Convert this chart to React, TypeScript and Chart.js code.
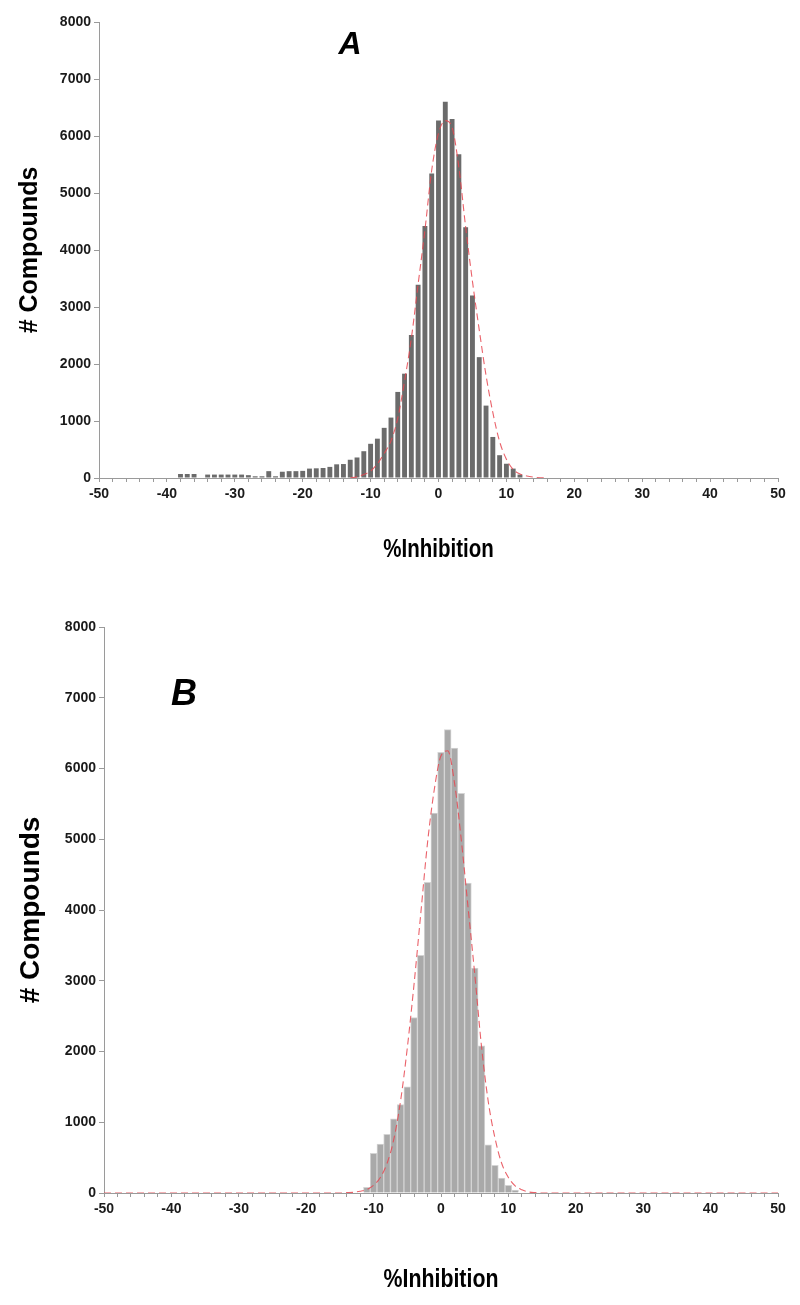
import React, { useEffect, useRef } from "react";
import { Chart, registerables } from "chart.js";

Chart.register(...registerables);

// ---------- Panel A data ----------
const binsA = [
  -38, -37, -36, -35, -34, -33, -32, -31, -30, -29, -28, -27, -26, -25, -24, -23,
  -22, -21, -20, -19, -18, -17, -16, -15, -14, -13, -12, -11, -10, -9, -8, -7, -6,
  -5, -4, -3, -2, -1, 0, 1, 2, 3, 4, 5, 6, 7, 8, 9, 10, 11, 12,
];
const countsA = [
  70, 70, 70, 0, 60, 60, 60, 60, 60, 60, 50, 30, 30, 120, 30, 110,
  120, 120, 125, 165, 170, 175, 195, 240, 245, 320, 360, 470, 600, 690, 880, 1060, 1510,
  1830, 2510, 3390, 4420, 5340, 6270, 6600, 6300, 5680, 4400, 3200, 2120, 1270, 720, 400, 250, 165, 60,
];
const fitXA = [-13, -12, -11, -10, -9, -8, -7, -6, -5, -4, -3, -2, -1, 0, 1, 2, 3, 4, 5, 6, 7, 8, 9, 10, 11, 12, 13, 14, 15, 16];
const fitYA = [0, 20, 60, 120, 250, 430, 650, 1050, 1700, 2450, 3400, 4350, 5400, 6050, 6270, 6150, 5450, 4400, 3450, 2600, 1800, 1150, 640, 330, 150, 70, 35, 15, 5, 0];

// ---------- Panel B data ----------
const binsB = [-11, -10, -9, -8, -7, -6, -5, -4, -3, -2, -1, 0, 1, 2, 3, 4, 5, 6, 7, 8, 9, 10, 11];
const countsB = [80, 560, 690, 830, 1050, 1250, 1500, 2480, 3360, 4390, 5370, 6230, 6550, 6290, 5650, 4380, 3180, 2080, 680, 390, 210, 110, 40];
const fitXB = [-50, -40, -30, -20, -15, -14, -13, -12, -11, -10, -9, -8, -7, -6, -5, -4, -3, -2, -1, 0, 1, 2, 3, 4, 5, 6, 7, 8, 9, 10, 11, 12, 13, 14, 15, 20, 30, 40, 50];
const fitYB = [0, 0, 0, 0, 0, 5, 10, 25, 50, 110, 220, 420, 760, 1300, 2050, 2950, 3950, 4950, 5700, 6180, 6250, 5800, 5000, 4050, 3100, 2080, 1300, 780, 420, 220, 100, 45, 15, 5, 0, 0, 0, 0, 0];

const xRange = [-50, 50];
const yRange = [0, 8000];
const xTitle = "%Inhibition";
const yTitle = "# Compounds";

const FONT = "'Liberation Sans', Arial, sans-serif";

type PanelOpts = {
  bins: number[];
  counts: number[];
  fitX: number[];
  fitY: number[];
  barColor: string;
  barBorder: string;
  barBorderWidth: number;
  barPercentage: number;
  letter: string;
  letterX: number;
  letterY: number;
  letterSize: number;
  height: number;
  padTop: number;
  yAxisWidth: number;
  xAxisHeight: number;
  yTitleSize: number;
  yTitlePad: number;
  xTitleSize: number;
  xTitleY: number;
};

function makeConfig(o: PanelOpts): any {
  const textPlugin = {
    id: "text" + o.letter,
    afterDraw(chart: any) {
      const ctx = chart.ctx;
      const area = chart.chartArea;
      ctx.save();
      ctx.font = `italic bold ${o.letterSize}px ${FONT}`;
      ctx.fillStyle = "#000";
      ctx.textAlign = "center";
      ctx.textBaseline = "middle";
      ctx.fillText(o.letter, o.letterX, o.letterY);
      ctx.restore();

      // condensed axis title
      ctx.save();
      const cx = (area.left + area.right) / 2;
      ctx.translate(cx, o.xTitleY);
      ctx.scale(0.82, 1);
      ctx.font = `bold ${o.xTitleSize}px ${FONT}`;
      ctx.fillStyle = "#000";
      ctx.textAlign = "center";
      ctx.textBaseline = "middle";
      ctx.fillText(xTitle, 0, 0);
      ctx.restore();
    },
  };
  return {
    type: "bar",
    data: {
      datasets: [
        {
          type: "line",
          data: o.fitX.map((x, i) => ({ x, y: o.fitY[i] })),
          borderColor: "rgba(230,70,80,0.85)",
          borderWidth: 1.1,
          borderDash: [7, 4],
          pointRadius: 0,
          fill: false,
          tension: 0.4,
          cubicInterpolationMode: "monotone",
          order: 0,
        },
        {
          type: "bar",
          data: o.bins.map((x, i) => ({ x, y: o.counts[i] })),
          backgroundColor: o.barColor,
          borderColor: o.barBorder,
          borderWidth: o.barBorderWidth,
          barPercentage: o.barPercentage,
          categoryPercentage: 1,
          order: 1,
        },
      ],
    },
    options: {
      responsive: false,
      animation: false,
      devicePixelRatio: 1,
      layout: { padding: { left: 0, right: 22, top: o.padTop, bottom: 0 } },
      plugins: { legend: { display: false }, tooltip: { enabled: false } },
      scales: {
        x: {
          type: "linear",
          min: xRange[0],
          max: xRange[1],
          offset: false,
          afterFit: (s: any) => {
            s.height = o.xAxisHeight;
          },
          grid: {
            offset: false,
            drawOnChartArea: false,
            drawTicks: true,
            tickLength: 4,
            color: "#9a9a9a",
          },
          border: { display: true, color: "#9a9a9a", width: 1 },
          ticks: {
            stepSize: 2,
            autoSkip: false,
            maxRotation: 0,
            padding: 4,
            color: "#1a1a1a",
            font: { family: FONT, size: 14, weight: "bold" },
            callback: (v: any) => (Number(v) % 10 === 0 ? String(v) : ""),
          },
          title: { display: false },
        },
        y: {
          type: "linear",
          min: yRange[0],
          max: yRange[1],
          afterFit: (s: any) => {
            s.width = o.yAxisWidth;
          },
          grid: {
            drawOnChartArea: false,
            drawTicks: true,
            tickLength: 5,
            color: "#9a9a9a",
          },
          border: { display: true, color: "#9a9a9a", width: 1 },
          ticks: {
            stepSize: 1000,
            padding: 3,
            color: "#1a1a1a",
            font: { family: FONT, size: 14, weight: "bold" },
            callback: (v: any) => String(v),
          },
          title: {
            display: true,
            text: yTitle,
            color: "#000",
            font: { family: FONT, size: o.yTitleSize, weight: "bold" },
            padding: { top: o.yTitlePad, bottom: 0 },
          },
        },
      },
    },
    plugins: [textPlugin],
  };
}

const panelA: PanelOpts = {
  bins: binsA,
  counts: countsA,
  fitX: fitXA,
  fitY: fitYA,
  barColor: "#6b6b6b",
  barBorder: "#6b6b6b",
  barBorderWidth: 0,
  barPercentage: 0.72,
  letter: "A",
  letterX: 350,
  letterY: 45,
  letterSize: 32,
  height: 600,
  padTop: 22,
  yAxisWidth: 99,
  xAxisHeight: 122,
  yTitleSize: 25,
  yTitlePad: 15,
  xTitleSize: 25,
  xTitleY: 550,
};

const panelB: PanelOpts = {
  bins: binsB,
  counts: countsB,
  fitX: fitXB,
  fitY: fitYB,
  barColor: "#a9a9a9",
  barBorder: "#d4d4d4",
  barBorderWidth: 1,
  barPercentage: 1,
  letter: "B",
  letterX: 184,
  letterY: 95,
  letterSize: 36,
  height: 705,
  padTop: 27,
  yAxisWidth: 104,
  xAxisHeight: 112,
  yTitleSize: 28,
  yTitlePad: 14,
  xTitleSize: 26,
  xTitleY: 680,
};

function Panel({ opts, top }: { opts: PanelOpts; top: number }) {
  const ref = useRef<HTMLCanvasElement | null>(null);
  useEffect(() => {
    if (!ref.current) return;
    const chart = new Chart(ref.current, makeConfig(opts));
    return () => chart.destroy();
  }, [opts]);
  return (
    <canvas
      ref={ref}
      width={800}
      height={opts.height}
      style={{ position: "absolute", left: 0, top, width: 800, height: opts.height }}
    />
  );
}

export default function App() {
  return (
    <div style={{ position: "absolute", left: 0, top: 0, width: 800, height: 1305, background: "#fff" }}>
      <Panel opts={panelA} top={0} />
      <Panel opts={panelB} top={600} />
    </div>
  );
}
